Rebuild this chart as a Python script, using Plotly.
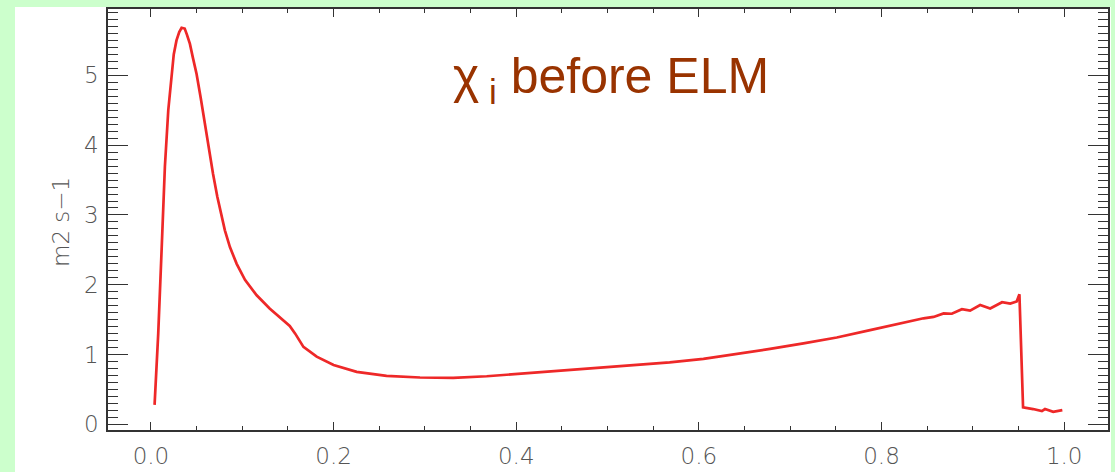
import plotly.graph_objects as go

# normalised radius and ion heat diffusivity profile (m2 s-1)
rho = [0.004, 0.006, 0.008, 0.0117, 0.0153, 0.019, 0.0227, 0.025, 0.028, 0.031,
       0.0336, 0.037, 0.0395, 0.0427, 0.046, 0.050, 0.0545, 0.059, 0.0635, 0.068,
       0.0727, 0.0774, 0.081, 0.0865, 0.0939, 0.103, 0.1158, 0.130, 0.145, 0.152,
       0.158, 0.167, 0.1815, 0.200, 0.2253, 0.258, 0.2946, 0.331, 0.3677, 0.404,
       0.4406, 0.477, 0.5137, 0.550, 0.568, 0.605, 0.6415, 0.678, 0.7145, 0.751,
       0.7875, 0.824, 0.835, 0.846, 0.857, 0.868, 0.877, 0.888, 0.897, 0.908,
       0.919, 0.932, 0.941, 0.948, 0.951, 0.955, 0.966, 0.9756, 0.979, 0.988,
       0.998]
chi_i = [0.28, 0.80, 1.30, 2.50, 3.69, 4.50, 5.07, 5.30, 5.50, 5.62,
         5.68, 5.67, 5.58, 5.45, 5.25, 5.02, 4.68, 4.31, 3.95, 3.59,
         3.26, 2.97, 2.78, 2.54, 2.30, 2.07, 1.85, 1.66, 1.49, 1.41,
         1.30, 1.11, 0.97, 0.85, 0.753, 0.696, 0.672, 0.668, 0.69, 0.725,
         0.76, 0.79, 0.825, 0.868, 0.888, 0.94, 1.006, 1.082, 1.16, 1.245,
         1.35, 1.455, 1.48, 1.52, 1.54, 1.59, 1.585, 1.65, 1.63, 1.71,
         1.66, 1.75, 1.73, 1.76, 1.865, 0.243, 0.22, 0.19, 0.22, 0.18,
         0.205]

x_ticks = [0.0, 0.2, 0.4, 0.6, 0.8, 1.0]
x_labels = ["0.0", "0.2", "0.4", "0.6", "0.8", "1.0"]
y_ticks = [0, 1, 2, 3, 4, 5]
y_labels = ["0", "1", "2", "3", "4", "5"]

W, H = 1115, 472
L, R, T, B = 108, 7, 9, 42
pw, ph = W - L - R, H - T - B

def px_x(p):
    return (p - L) / pw

def px_y(p):
    return (H - B - p) / ph

fig = go.Figure()
fig.add_trace(go.Scatter(x=rho, y=chi_i, mode="lines",
                         line=dict(color="#ee2828", width=2.7, shape="linear"),
                         showlegend=False, hoverinfo="skip"))

tick_font = dict(family="DejaVu Sans, sans-serif", size=23, color="#555555", weight=300)
axis_col = "#333333"

fig.update_xaxes(range=[-0.047, 1.048], tickvals=x_ticks, ticktext=x_labels,
                 ticks="inside", ticklen=8, tickwidth=1.2, tickcolor=axis_col,
                 minor=dict(dtick=0.05, tick0=0, ticks="inside", ticklen=4,
                            tickwidth=1.2, tickcolor=axis_col),
                 showline=True, linecolor=axis_col, linewidth=1.5, mirror="allticks",
                 showgrid=False, zeroline=False, tickfont=tick_font,
                 ticklabelstandoff=5, automargin=False)
fig.update_yaxes(range=[-0.08, 5.95], tickvals=y_ticks, showticklabels=False,
                 ticks="inside", ticklen=20, tickwidth=1.2, tickcolor=axis_col,
                 minor=dict(dtick=0.1, tick0=0, ticks="inside", ticklen=10,
                            tickwidth=1.2, tickcolor=axis_col),
                 showline=True, linecolor=axis_col, linewidth=1.5, mirror="allticks",
                 showgrid=False, zeroline=False, automargin=False)

# y tick labels placed close to the left axis line
for v, lab in zip(y_ticks, y_labels):
    fig.add_annotation(xref="paper", yref="y", x=px_x(101), y=v, text=lab,
                       showarrow=False, font=tick_font,
                       xanchor="right", yanchor="middle")

# white panel on the green page
fig.add_shape(type="rect", xref="paper", yref="paper",
              x0=px_x(15), x1=px_x(1111), y0=px_y(480), y1=px_y(7),
              fillcolor="white", line_width=0, layer="below")

fig.add_annotation(xref="paper", yref="paper", x=px_x(61), y=px_y(222),
                   text="m2 s\u22121", textangle=-90, showarrow=False,
                   font=dict(family="DejaVu Sans, sans-serif", size=23, color="#555555", weight=300),
                   xanchor="center", yanchor="middle")

fig.add_annotation(xref="paper", yref="paper", x=px_x(451), y=px_y(79),
                   text="\u03c7<sub>\u00a0i</sub>\u00a0before ELM", showarrow=False,
                   font=dict(family="Liberation Sans, Arial, sans-serif", size=50, color="#993300"),
                   xanchor="left", yanchor="middle")

fig.update_layout(width=W, height=H, margin=dict(l=L, r=R, t=T, b=B),
                  paper_bgcolor="#ccffcc", plot_bgcolor="white")

fig.write_html("out.html")
